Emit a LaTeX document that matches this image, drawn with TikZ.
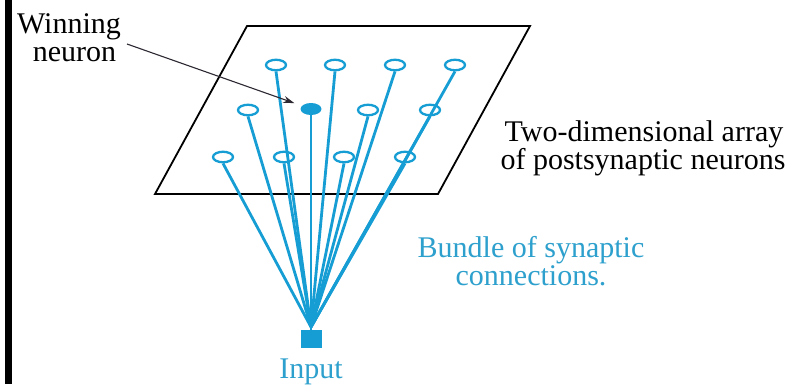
\documentclass[tikz,border=0pt]{standalone}
\usepackage{fontspec}
\setmainfont{Liberation Serif}
\newfontfamily\capface{Liberation Serif}
\usetikzlibrary{shapes.geometric,arrows.meta}
\definecolor{synblue}{RGB}{22,158,212}
\definecolor{textblue}{RGB}{45,160,205}
\definecolor{pointer}{RGB}{45,40,50}

\begin{document}
\begin{tikzpicture}[x=1pt,y=-1pt,
  neuron/.style={ellipse,draw=synblue,line width=2.3pt,fill=white,
    minimum width=20pt,minimum height=10.5pt,inner sep=0pt},
  winner/.style={ellipse,fill=synblue,minimum width=21pt,minimum height=12pt,inner sep=0pt},
  synapse/.style={draw=synblue,line width=2.8pt},
  lbl/.style={font=\capface\fontsize{30}{30}\selectfont,anchor=base,inner sep=0pt},
  ]
\useasboundingbox (0,0) rectangle (803,384);
\fill[white] (0,0) rectangle (803,384);
\fill[black] (5,0) rectangle (11.5,384);

% the sheet holding the neuron array
\draw[line width=1.8pt,line join=miter] (247,26) -- (530,26) -- (438,194) -- (155,194) -- cycle;

% input terminal
\node[fill=synblue,minimum width=21pt,minimum height=18pt,inner sep=0pt] (input) at (311,339) {};
\coordinate (hub) at (311,327);

% neuron array (three rows of four)
\node[neuron] (n11) at (276,65) {};
\node[neuron] (n12) at (335,65) {};
\node[neuron] (n13) at (395,65) {};
\node[neuron] (n14) at (455,65) {};
\node[neuron] (n21) at (248,110) {};
\node[winner] (n22) at (311,109) {};
\node[neuron] (n23) at (368,110) {};
\node[neuron] (n24) at (430,110) {};
\node[neuron] (n31) at (223,157) {};
\node[neuron] (n32) at (284,157) {};
\node[neuron] (n33) at (344,157) {};
\node[neuron] (n34) at (405,157) {};

% synaptic connections, gathered into the input terminal
\foreach \n in {n11,n12,n13,n14,n21,n22,n23,n24,n31,n32,n33,n34}
  \draw[synapse] (\n.south) -- (hub);
\draw[synapse] (hub) -- (input.north);

% labels
\node[lbl] (winA) at (69,33) {Winning};
\node[lbl] (winB) at (74.5,61) {neuron};
\coordinate (ptrstart) at (127,44);
\draw[pointer,line width=1.1pt,-{Stealth[length=11pt,width=7pt]},shorten >=8pt] (ptrstart) -- (n22);

\node[lbl] (arrA) at (644,141.7) {Two-dimensional array};
\node[lbl] (arrB) at (643,169.3) {of postsynaptic neurons};
\node[lbl,text=textblue,align=center,font=\capface\fontsize{30}{23.3}\selectfont]
  (bundle) at (531,285) {Bundle of synaptic\\connections.};
\node[lbl,text=textblue] (inp) at (311,378) {Input};
\end{tikzpicture}
\end{document}
